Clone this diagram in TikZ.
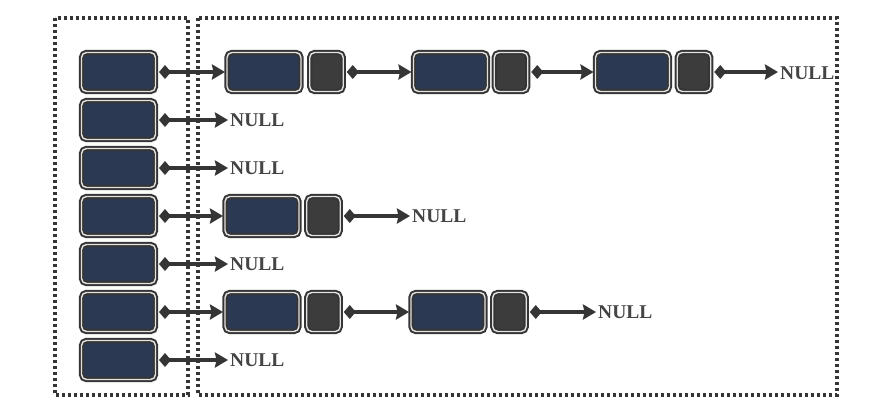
\documentclass[tikz,border=0pt]{standalone}
\usepackage{fontspec}
\setmainfont{Liberation Serif}
\usetikzlibrary{arrows.meta}
\definecolor{navy}{HTML}{2B3A52}
\definecolor{cellgray}{HTML}{3C3C3C}
\definecolor{edge}{HTML}{353535}
\definecolor{rim}{HTML}{E2E2E2}
\definecolor{txt}{HTML}{444444}
\begin{document}
\begin{tikzpicture}[x=1pt,y=-1pt,
  cellbase/.style={draw=edge, double=rim, double distance=1.4pt, line width=2pt,
    rounded corners=5pt, inner sep=0pt, outer sep=0pt},
  big/.style={cellbase, fill=navy, minimum width=74pt, minimum height=39pt},
  small/.style={cellbase, fill=cellgray, minimum width=33.5pt, minimum height=39pt},
  nulltxt/.style={anchor=west, inner sep=0pt, text=txt,
    font=\fontsize{19.5}{20}\selectfont\bfseries},
  link/.style={draw=edge, line width=4pt,
    {Diamond[length=12pt,width=14pt]}-{Stealth[length=13pt,width=15pt,inset=1.5pt]},
    shorten <=3.5pt, shorten >=2pt},
  dotbox/.style={draw=edge, line width=3.2pt, dash pattern=on 3pt off 3pt}]
\path[use as bounding box] (0,0) rectangle (884,405);
% dotted frames
\draw[dotbox] (55,18) rectangle (188,395);
\draw[dotbox] (198,18) rectangle (837,395);
% buckets
\foreach \i in {1,...,7}{
  \node[big] (b\i) at (118.5,{72+48*(\i-1)}) {};
}
% row 1 chain
\node[big]   (a1) at (264,72) {};
\node[small] (a1s) at (326.5,72) {};
\node[big]   (a2) at (450.5,72) {};
\node[small] (a2s) at (511,72) {};
\node[big]   (a3) at (632.5,72) {};
\node[small] (a3s) at (694,72) {};
\node[nulltxt] (n1) at (780,73) {NULL};
\draw[link] (b1.east) -- (a1.west);
\draw[link] (a1s.east) -- (a2.west);
\draw[link] (a2s.east) -- (a3.west);
\draw[link] (a3s.east) -- (a3s.east -| n1.west);
% row 2
\node[nulltxt] (n2) at (230,120) {NULL};
\draw[link] (b2.east) -- (n2.west);
% row 3
\node[nulltxt] (n3) at (230,168) {NULL};
\draw[link] (b3.east) -- (n3.west);
% row 4
\node[big]   (d1) at (262,216) {};
\node[small] (d1s) at (323.5,216) {};
\node[nulltxt] (n4) at (412,216) {NULL};
\draw[link] (b4.east) -- (d1.west);
\draw[link] (d1s.east) -- (n4.west);
% row 5
\node[nulltxt] (n5) at (230,264) {NULL};
\draw[link] (b5.east) -- (n5.west);
% row 6
\node[big]   (f1) at (262,312) {};
\node[small] (f1s) at (323.5,312) {};
\node[big]   (f2) at (448,312) {};
\node[small] (f2s) at (509.5,312) {};
\node[nulltxt] (n6) at (598,312) {NULL};
\draw[link] (b6.east) -- (f1.west);
\draw[link] (f1s.east) -- (f2.west);
\draw[link] (f2s.east) -- (n6.west);
% row 7
\node[nulltxt] (n7) at (230,360) {NULL};
\draw[link] (b7.east) -- (n7.west);
\end{tikzpicture}
\end{document}
